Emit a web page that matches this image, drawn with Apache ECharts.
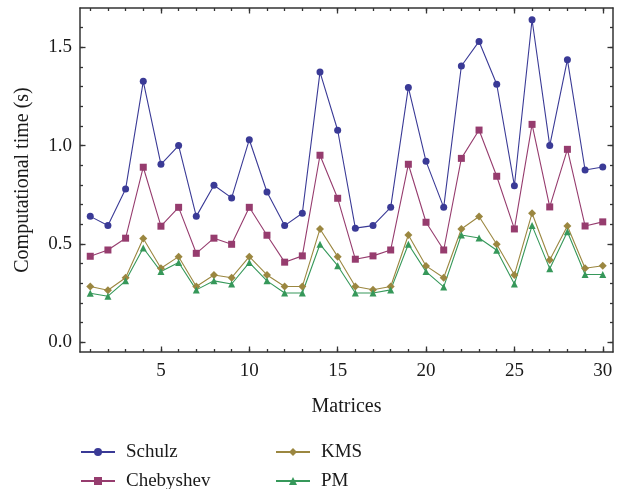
<!DOCTYPE html>
<html>
<head>
<meta charset="utf-8">
<script src="https://cdn.jsdelivr.net/npm/echarts@6/dist/echarts.min.js"></script>
<style>
  html, body { margin: 0; padding: 0; background: #fff; }
  #chart { width: 621px; height: 489px; }
</style>
</head>
<body>
<div id="chart"></div>
<script>
// Matrix index 1..30
const matrices = [1, 2, 3, 4, 5, 6, 7, 8, 9, 10, 11, 12, 13, 14, 15, 16, 17, 18, 19, 20, 21, 22, 23, 24, 25, 26, 27, 28, 29, 30];

// Computational times (s)
const schulz = [0.64, 0.593, 0.779, 1.327, 0.905, 1.0, 0.64, 0.798, 0.734, 1.03, 0.764, 0.593, 0.656, 1.374, 1.078, 0.58, 0.593, 0.686, 1.296, 0.92, 0.686, 1.405, 1.53, 1.312, 0.796, 1.64, 1.0, 1.437, 0.876, 0.891];
const chebyshev = [0.437, 0.469, 0.529, 0.89, 0.59, 0.686, 0.452, 0.529, 0.498, 0.686, 0.544, 0.407, 0.439, 0.951, 0.732, 0.422, 0.439, 0.469, 0.905, 0.61, 0.469, 0.935, 1.079, 0.844, 0.576, 1.108, 0.688, 0.981, 0.591, 0.612];
const kms = [0.283, 0.264, 0.328, 0.527, 0.376, 0.435, 0.283, 0.342, 0.328, 0.435, 0.342, 0.283, 0.283, 0.576, 0.435, 0.283, 0.267, 0.283, 0.545, 0.388, 0.328, 0.576, 0.639, 0.498, 0.342, 0.656, 0.418, 0.591, 0.376, 0.389];
const pm = [0.249, 0.234, 0.312, 0.479, 0.359, 0.405, 0.266, 0.312, 0.296, 0.405, 0.312, 0.25, 0.25, 0.498, 0.389, 0.25, 0.25, 0.266, 0.498, 0.359, 0.281, 0.545, 0.53, 0.468, 0.296, 0.593, 0.374, 0.562, 0.344, 0.344];

// Tick positions
const xMajor = [5, 10, 15, 20, 25, 30];
const yMajor = [0, 0.5, 1.0, 1.5];
const yMinor = [0, 0.1, 0.2, 0.3, 0.4, 0.5, 0.6, 0.7, 0.8, 0.9, 1.0, 1.1, 1.2, 1.3, 1.4, 1.5, 1.6];

const FONT = "Liberation Serif";
const AXIS = "#333";
const X_MIN = 0.42, X_MAX = 30.58, Y_MIN = -0.05, Y_MAX = 1.7;

function pairs(vals) {
  return vals.map((v, i) => [matrices[i], v]);
}

function tickAxis(dim, gridIndex, position, ticks, len, labels) {
  return {
    type: "value",
    gridIndex: gridIndex,
    position: position,
    min: dim === "x" ? X_MIN : Y_MIN,
    max: dim === "x" ? X_MAX : Y_MAX,
    axisLine: { show: gridIndex === 0, onZero: false, lineStyle: { color: AXIS, width: 1.5 } },
    axisTick: { show: true, inside: true, length: len, customValues: ticks, lineStyle: { color: AXIS, width: 1.3 } },
    axisLabel: labels ? {
      show: true,
      customValues: labels,
      margin: dim === "x" ? 10 : 8,
      fontFamily: FONT,
      fontSize: 19,
      color: "#1a1a1a",
      formatter: dim === "y" ? (v) => v.toFixed(1) : (v) => String(Math.round(v))
    } : { show: false },
    splitLine: { show: false }
  };
}

const chart = echarts.init(document.getElementById("chart"));

const xb = tickAxis("x", 0, "bottom", xMajor, 5.5, xMajor);
xb.name = "Matrices";
xb.nameLocation = "middle";
xb.nameGap = 45;
xb.nameTextStyle = { fontFamily: FONT, fontSize: 20, color: "#1a1a1a" };

const yl = tickAxis("y", 0, "left", yMajor, 5.5, yMajor);
yl.name = "Computational time (s)";
yl.nameLocation = "middle";
yl.nameGap = 47;
yl.nameTextStyle = { fontFamily: FONT, fontSize: 20, color: "#1a1a1a" };

const gridBox = { left: 80, right: 8, top: 8, bottom: 137 };

function lineSeries(name, vals, color, symbol, size) {
  return {
    name: name,
    type: "line",
    xAxisIndex: 0,
    yAxisIndex: 0,
    data: pairs(vals),
    symbol: symbol,
    symbolSize: size,
    color: color,
    lineStyle: { width: 1.1, color: color },
    itemStyle: { color: color },
    animation: false
  };
}

const legendText = { fontFamily: FONT, fontSize: 19, color: "#1a1a1a", lineHeight: 20, padding: [0, 0, 0, 6] };

function legendBlock(names, left) {
  return {
    data: names,
    orient: "vertical",
    left: left,
    top: 442,
    height: 100,
    padding: 0,
    itemWidth: 34,
    itemHeight: 10,
    itemGap: 9,
    textStyle: legendText
  };
}

chart.setOption({
  backgroundColor: "#fff",
  animation: false,
  grid: [
    Object.assign({}, gridBox),
    Object.assign({}, gridBox)
  ],
  xAxis: [
    xb,
    tickAxis("x", 0, "top", xMajor, 5.5, null),
    tickAxis("x", 1, "bottom", matrices, 3, null),
    tickAxis("x", 1, "top", matrices, 3, null)
  ],
  yAxis: [
    yl,
    tickAxis("y", 0, "right", yMajor, 5.5, null),
    tickAxis("y", 1, "left", yMinor, 3, null),
    tickAxis("y", 1, "right", yMinor, 3, null)
  ],
  legend: [
    legendBlock(["Schulz", "Chebyshev"], 80),
    legendBlock(["KMS", "PM"], 275)
  ],
  series: [
    lineSeries("Schulz", schulz, "#3a3a96", "circle", 7),
    lineSeries("Chebyshev", chebyshev, "#963c6e", "rect", 7),
    lineSeries("KMS", kms, "#9b8740", "diamond", 8),
    lineSeries("PM", pm, "#36985a", "triangle", 7)
  ]
});
</script>
</body>
</html>
